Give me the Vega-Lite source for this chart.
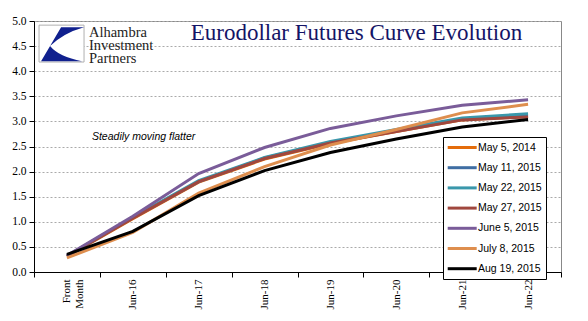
{
  "$schema": "https://vega.github.io/schema/vega-lite/v6.json",
  "width": 527,
  "height": 251,
  "autosize": {"type": "none"},
  "padding": {"left": 34, "top": 21, "right": 27, "bottom": 49},
  "background": "white",
  "config": {
    "view": {"stroke": "#888888", "strokeWidth": 1},
    "axis": {"domainColor": "black", "tickColor": "black", "labelColor": "black", "titleColor": "black"}
  },
  "encoding": {
    "x": {
      "field": "x", "type": "nominal",
      "scale": {"type": "band", "domain": ["Front Month", "Jun-16", "Jun-17", "Jun-18", "Jun-19", "Jun-20", "Jun-21", "Jun-22"], "paddingInner": 0, "paddingOuter": 0},
      "axis": {"title": null, "labelAngle": -90, "labelAlign": "right", "labelBaseline": "middle", "labelFont": "Liberation Serif", "labelFontSize": 11, "labelLineHeight": 13, "tickBand": "extent", "tickSize": 5, "labelPadding": 2, "grid": false, "labelExpr": "datum.label == 'Front Month' ? ['Front', 'Month'] : datum.label"}
    },
    "y": {
      "field": "v", "type": "quantitative",
      "scale": {"domain": [0, 5], "nice": false},
      "axis": {"title": null, "values": [0, 0.5, 1, 1.5, 2, 2.5, 3, 3.5, 4, 4.5, 5], "format": ".1f", "labelFont": "Liberation Serif", "labelFontSize": 11.5, "tickSize": 5, "labelPadding": 3, "grid": true, "gridColor": "#aaaaaa", "gridDash": [2, 2]}
    }
  },
  "layer": [
    {
      "data": {"values": [
        {"s": "May 5, 2014", "x": "Front Month", "v": 0.31}, {"s": "May 5, 2014", "x": "Jun-16", "v": 1.06}, {"s": "May 5, 2014", "x": "Jun-17", "v": 1.79}, {"s": "May 5, 2014", "x": "Jun-18", "v": 2.25}, {"s": "May 5, 2014", "x": "Jun-19", "v": 2.56}, {"s": "May 5, 2014", "x": "Jun-20", "v": 2.80}, {"s": "May 5, 2014", "x": "Jun-21", "v": 3.03}, {"s": "May 5, 2014", "x": "Jun-22", "v": 3.10},
        {"s": "May 11, 2015", "x": "Front Month", "v": 0.32}, {"s": "May 11, 2015", "x": "Jun-16", "v": 1.08}, {"s": "May 11, 2015", "x": "Jun-17", "v": 1.80}, {"s": "May 11, 2015", "x": "Jun-18", "v": 2.27}, {"s": "May 11, 2015", "x": "Jun-19", "v": 2.58}, {"s": "May 11, 2015", "x": "Jun-20", "v": 2.82}, {"s": "May 11, 2015", "x": "Jun-21", "v": 3.05}, {"s": "May 11, 2015", "x": "Jun-22", "v": 3.12},
        {"s": "May 22, 2015", "x": "Front Month", "v": 0.32}, {"s": "May 22, 2015", "x": "Jun-16", "v": 1.09}, {"s": "May 22, 2015", "x": "Jun-17", "v": 1.82}, {"s": "May 22, 2015", "x": "Jun-18", "v": 2.28}, {"s": "May 22, 2015", "x": "Jun-19", "v": 2.60}, {"s": "May 22, 2015", "x": "Jun-20", "v": 2.84}, {"s": "May 22, 2015", "x": "Jun-21", "v": 3.07}, {"s": "May 22, 2015", "x": "Jun-22", "v": 3.15},
        {"s": "May 27, 2015", "x": "Front Month", "v": 0.32}, {"s": "May 27, 2015", "x": "Jun-16", "v": 1.07}, {"s": "May 27, 2015", "x": "Jun-17", "v": 1.80}, {"s": "May 27, 2015", "x": "Jun-18", "v": 2.26}, {"s": "May 27, 2015", "x": "Jun-19", "v": 2.57}, {"s": "May 27, 2015", "x": "Jun-20", "v": 2.80}, {"s": "May 27, 2015", "x": "Jun-21", "v": 3.03}, {"s": "May 27, 2015", "x": "Jun-22", "v": 3.09},
        {"s": "June 5, 2015", "x": "Front Month", "v": 0.33}, {"s": "June 5, 2015", "x": "Jun-16", "v": 1.11}, {"s": "June 5, 2015", "x": "Jun-17", "v": 1.96}, {"s": "June 5, 2015", "x": "Jun-18", "v": 2.48}, {"s": "June 5, 2015", "x": "Jun-19", "v": 2.86}, {"s": "June 5, 2015", "x": "Jun-20", "v": 3.11}, {"s": "June 5, 2015", "x": "Jun-21", "v": 3.32}, {"s": "June 5, 2015", "x": "Jun-22", "v": 3.43},
        {"s": "July 8, 2015", "x": "Front Month", "v": 0.28}, {"s": "July 8, 2015", "x": "Jun-16", "v": 0.79}, {"s": "July 8, 2015", "x": "Jun-17", "v": 1.57}, {"s": "July 8, 2015", "x": "Jun-18", "v": 2.10}, {"s": "July 8, 2015", "x": "Jun-19", "v": 2.53}, {"s": "July 8, 2015", "x": "Jun-20", "v": 2.84}, {"s": "July 8, 2015", "x": "Jun-21", "v": 3.17}, {"s": "July 8, 2015", "x": "Jun-22", "v": 3.34},
        {"s": "Aug 19, 2015", "x": "Front Month", "v": 0.35}, {"s": "Aug 19, 2015", "x": "Jun-16", "v": 0.81}, {"s": "Aug 19, 2015", "x": "Jun-17", "v": 1.52}, {"s": "Aug 19, 2015", "x": "Jun-18", "v": 2.02}, {"s": "Aug 19, 2015", "x": "Jun-19", "v": 2.38}, {"s": "Aug 19, 2015", "x": "Jun-20", "v": 2.65}, {"s": "Aug 19, 2015", "x": "Jun-21", "v": 2.89}, {"s": "Aug 19, 2015", "x": "Jun-22", "v": 3.04}
      ]},
      "mark": {"type": "line", "strokeWidth": 3},
      "encoding": {
        "color": {
          "field": "s", "type": "nominal",
          "scale": {"domain": ["May 5, 2014", "May 11, 2015", "May 22, 2015", "May 27, 2015", "June 5, 2015", "July 8, 2015", "Aug 19, 2015"], "range": ["#E46C0A", "#3F6EA3", "#3A97AB", "#A0473E", "#7A5C99", "#DE8E4E", "#000000"]},
          "legend": {"title": null, "orient": "none", "legendX": 409, "legendY": 116, "padding": 4, "strokeColor": "black", "fillColor": "white", "cornerRadius": 0, "symbolType": "M-1.2,0H4.8", "symbolSize": 93.4, "symbolStrokeWidth": 3, "labelOffset": 18, "rowPadding": 7.2, "labelFont": "Liberation Sans", "labelFontSize": 10.5, "labelColor": "black"}
        }
      }
    },
    {
      "data": {"values": [{"x": "Front Month", "v": 4.55}]},
      "mark": {"type": "point", "shape": "M-1.24,-0.82H0.76V0.82H-1.24Z", "size": 2025, "filled": true, "fill": "white", "stroke": "#b0b0b0", "strokeWidth": 1, "opacity": 1}
    },
    {
      "data": {"values": [{"x": "Front Month", "v": 4.55}]},
      "mark": {"type": "point", "shape": "M-0.26,-0.73L0.76,-0.73Q-0.17,-0.47,-0.75,0.11ZM-0.75,0.11L-1.15,0.78L0.67,0.78Q-0.35,0.6,-0.75,0.11Z", "size": 2025, "filled": true, "fill": "#10208E", "strokeWidth": 0, "opacity": 1}
    },
    {
      "data": {"values": [{"x": "Front Month", "v": 4.68, "t": "Alhambra"}, {"x": "Front Month", "v": 4.42, "t": "Investment"}, {"x": "Front Month", "v": 4.16, "t": "Partners"}]},
      "mark": {"type": "text", "align": "left", "baseline": "alphabetic", "dx": 22, "font": "Liberation Serif", "fontSize": 14.5, "color": "#222222"},
      "encoding": {"text": {"field": "t"}}
    },
    {
      "data": {"values": [{"x": "Jun-19", "v": 4.62, "t": "Eurodollar Futures Curve Evolution"}]},
      "mark": {"type": "text", "align": "center", "baseline": "alphabetic", "dx": 26, "font": "Liberation Serif", "fontSize": 23, "color": "#141466"},
      "encoding": {"text": {"field": "t"}}
    },
    {
      "data": {"values": [{"x": "Front Month", "v": 2.63, "t": "Steadily moving flatter"}]},
      "mark": {"type": "text", "align": "left", "baseline": "alphabetic", "dx": 25, "font": "Liberation Sans", "fontStyle": "italic", "fontSize": 10.5, "color": "black"},
      "encoding": {"text": {"field": "t"}}
    }
  ]
}
